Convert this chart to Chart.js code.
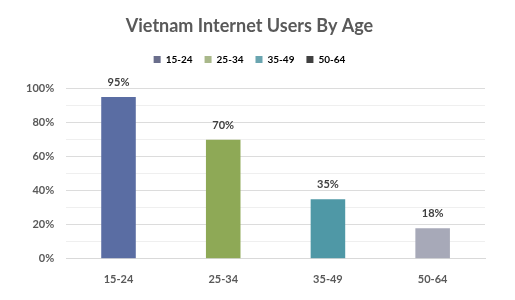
<!DOCTYPE html>
<html>
<head>
<meta charset="utf-8">
<script src="https://cdn.jsdelivr.net/npm/chart.js@4.4.0/dist/chart.umd.min.js"></script>
<style>
  html, body { margin: 0; padding: 0; background: #fff; }
  #wrap { width: 515px; height: 300px; }
</style>
</head>
<body>
<div id="wrap"><canvas id="mychart" width="515" height="300"></canvas></div>
<script>
// data
const ageGroups = ['15-24', '25-34', '35-49', '50-64'];
const userShare = [95, 70, 35, 18];
const yTicks = [0, 20, 40, 60, 80, 100];

const barColors = ['#5a6da3', '#8ea956', '#4f98a6', '#a7a9b8'];
const legendColors = ['#6a6e8c', '#a9b88a', '#6aa5b0', '#404040'];

// draw the % labels above each bar
const valueLabels = {
  id: 'valueLabels',
  afterDatasetsDraw(chart) {
    const ctx = chart.ctx;
    const meta = chart.getDatasetMeta(0);
    ctx.save();
    ctx.font = 'bold 11px Lato';
    ctx.fillStyle = '#404040';
    ctx.textAlign = 'center';
    ctx.textBaseline = 'bottom';
    meta.data.forEach(function(bar, i) {
      ctx.fillText(userShare[i] + '%', bar.x, bar.y - 9);
    });
    ctx.restore();
  }
};

// extra room under the legend
const legendMargin = {
  id: 'legendMargin',
  beforeInit(chart) {
    const fit = chart.legend.fit;
    chart.legend.fit = function() {
      fit.bind(chart.legend)();
      this.height += 14;
    };
  }
};

let ctx = document.getElementById('mychart').getContext('2d');
let usersChart = new Chart(ctx, {
  type: 'bar',
  data: {
    labels: ageGroups,
    datasets: [{
      label: 'Users',
      data: userShare,
      backgroundColor: barColors,
      barPercentage: 0.33,
      categoryPercentage: 1
    }]
  },
  options: {
    responsive: false,
    animation: false,
    layout: { padding: { left: 14, right: 30, top: 8, bottom: 8 } },
    plugins: {
      title: {
        display: true,
        text: 'Vietnam Internet Users By Age',
        color: '#595959',
        font: { family: 'Lato', size: 18, weight: 'bold' },
        padding: { top: 7, bottom: 6 }
      },
      legend: {
        display: true,
        labels: {
          boxWidth: 7,
          boxHeight: 7,
          padding: 12,
          color: '#595959',
          font: { family: 'Lato', size: 10, weight: 'bold' },
          generateLabels: function() {
            return ageGroups.map(function(g, i) {
              return { text: g, fillStyle: legendColors[i], strokeStyle: legendColors[i], lineWidth: 0, index: i };
            });
          }
        },
        onClick: function() {}
      },
      tooltip: { enabled: false }
    },
    scales: {
      x: {
        grid: { display: false },
        border: { color: '#d9d9d9' },
        ticks: {
          color: '#595959',
          padding: 6,
          font: { family: 'Lato', size: 11, weight: 'bold' }
        }
      },
      y: {
        min: 0,
        max: 100,
        border: { display: false },
        grid: {
          color: function(c) { return c.tick.value % 20 === 0 ? '#dcdcdc' : '#efefef'; },
          drawTicks: false
        },
        ticks: {
          stepSize: 10,
          padding: 12,
          color: '#595959',
          font: { family: 'Lato', size: 11, weight: 'bold' },
          callback: function(v) { return yTicks.indexOf(v) >= 0 ? v + '%' : ''; }
        }
      }
    }
  },
  plugins: [valueLabels, legendMargin]
});
</script>
</body>
</html>
